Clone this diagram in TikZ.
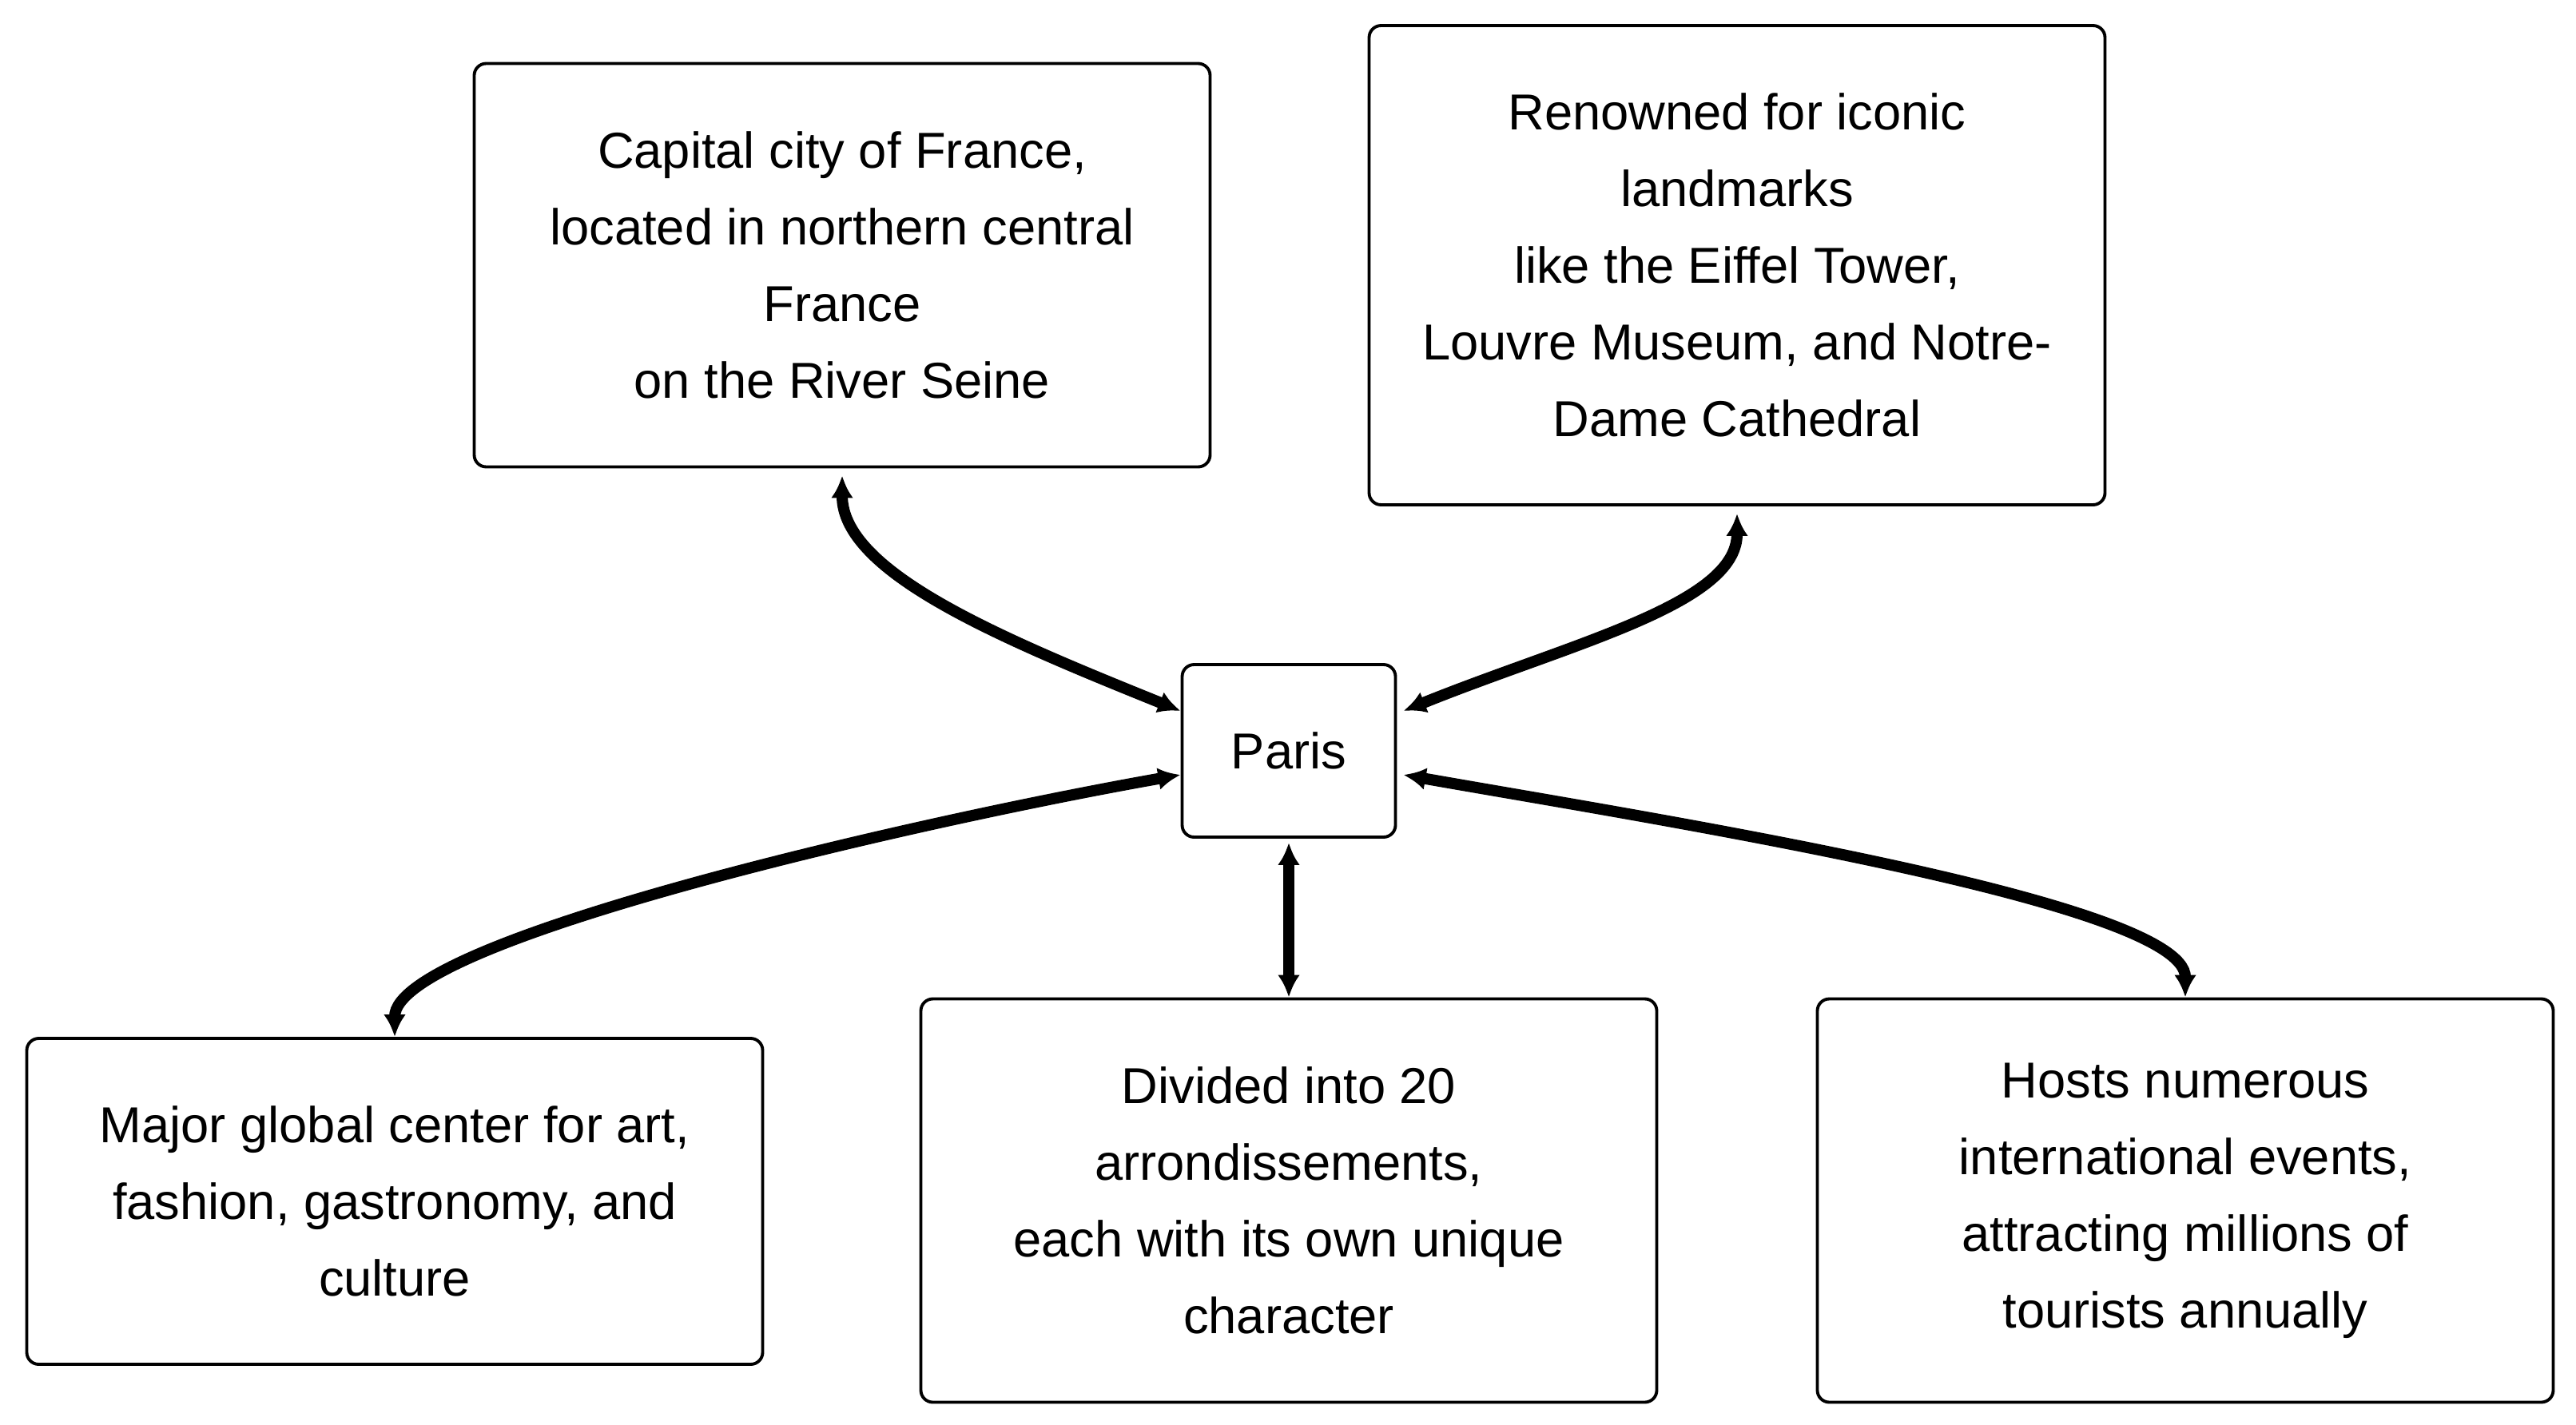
\documentclass[tikz,border=0pt]{standalone}
\usepackage{fontspec}
\setmainfont{Liberation Sans}
\usetikzlibrary{arrows.meta}
\begin{document}
\begin{tikzpicture}[
	box/.style={draw,line width=1.1pt,rounded corners=.15cm,align=center,inner sep=0pt,minimum width=9.21cm,minimum height=5.05cm,font=\fontsize{18}{27.3}\selectfont},
	link/.style={line width=4pt,<->,>={Latex[length=.28cm,width=.28cm]}}]
	\useasboundingbox (0,0) rectangle (32.24,-17.84);
	% Paris
	\node[box,minimum width=2.67cm,minimum height=2.16cm] (paris) at (16.13,-9.40) {Paris};
	% oben
	\node[box] (capital) at (10.54,-3.32) {Capital city of France,\\located in northern central\\France\\on the River Seine};
	\node[box,minimum height=6cm] (landmarks) at (21.74,-3.32) {Renowned for iconic\\landmarks\\like the Eiffel Tower,\\Louvre Museum, and Notre-\\Dame Cathedral};
	% unten
	\node[box,minimum height=4.08cm] (culture) at (4.94,-15.04) {Major global center for art,\\fashion, gastronomy, and\\culture};
	\node[box] (districts) at (16.13,-15.03) {Divided into 20\\arrondissements,\\each with its own unique\\character};
	\node[box] (events) at (27.35,-15.03) {Hosts numerous\\international events,\\attracting millions of\\tourists annually};
	% pfeile
	\draw[link] ([yshift=-.09cm]capital.south) to[out=-90,in=158,out looseness=.6,in looseness=1.2] ([yshift=.5cm]paris.west);
	\draw[link] ([yshift=-.09cm]landmarks.south) to[out=-90,in=22,out looseness=.6,in looseness=1.2] ([xshift=.08cm,yshift=.5cm]paris.east);
	\draw[link] ([yshift=-.3cm]paris.west) to[out=190,in=90,out looseness=.8,in looseness=.3] (culture.north);
	\draw[link] ([yshift=-.05cm]paris.south) -- (districts.north);
	\draw[link] ([xshift=.08cm,yshift=-.3cm]paris.east) to[out=-10,in=90,out looseness=.8,in looseness=.3] (events.north);
\end{tikzpicture}
\end{document}
